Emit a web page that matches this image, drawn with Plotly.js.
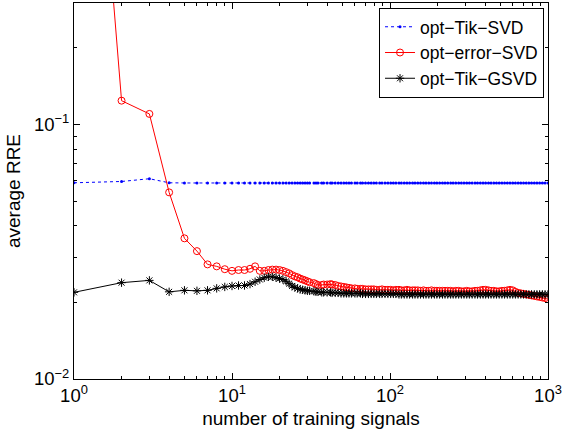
<!DOCTYPE html>
<html>
<head>
<meta charset="utf-8">
<script src="https://cdn.plot.ly/plotly-3.0.1.min.js"></script>
<style>html,body{margin:0;padding:0;background:#fff;}#chart{width:563px;height:432px;}</style>
</head>
<body>
<div id="chart"></div>
<script>
const seriesNames = ['opt\u2212Tik\u2212SVD', 'opt\u2212error\u2212SVD', 'opt\u2212Tik\u2212GSVD'];

const trainingSignals = [1,2,3,4,5,6,7,8,9,10,11,12,13,14,15,16,17,18,19,20,21,22,23,24,25,26,27,28,29,30,31,33,34,35,37,38,40,42,43,45,47,49,51,53,55,57,60,62,65,67,70,73,76,79,82,86,89,93,97,101,105,109,114,118,123,128,133,139,144,150,156,163,169,176,183,191,198,206,215,223,232,242,251,261,272,283,294,306,318,331,345,358,373,388,403,420,436,454,472,491,511,531,553,575,598,622,647,673,700,728,757,787,819,851,885,921,958,1000];

const optTikSVD = [0.0590,0.0597,0.0612,0.0590,0.0589,0.0589,0.0589,0.0589,0.0589,0.0589,0.0589,0.0589,0.0589,0.0589,0.0589,0.0589,0.0589,0.0589,0.0589,0.0589,0.0589,0.0589,0.0589,0.0589,0.0589,0.0589,0.0589,0.0589,0.0589,0.0589,0.0589,0.0589,0.0589,0.0589,0.0589,0.0589,0.0589,0.0589,0.0589,0.0589,0.0589,0.0589,0.0589,0.0589,0.0589,0.0589,0.0589,0.0589,0.0589,0.0589,0.0589,0.0589,0.0589,0.0589,0.0589,0.0589,0.0589,0.0589,0.0589,0.0589,0.0589,0.0589,0.0589,0.0589,0.0589,0.0589,0.0589,0.0589,0.0589,0.0589,0.0589,0.0589,0.0589,0.0589,0.0589,0.0589,0.0589,0.0589,0.0589,0.0589,0.0589,0.0589,0.0589,0.0589,0.0589,0.0589,0.0589,0.0589,0.0589,0.0589,0.0589,0.0589,0.0589,0.0589,0.0589,0.0589,0.0589,0.0589,0.0589,0.0589,0.0589,0.0589,0.0589,0.0589,0.0589,0.0589,0.0589,0.0589,0.0589,0.0589,0.0589,0.0589,0.0589,0.0589,0.0589,0.0589,0.0589,0.0589];

const optErrorSVD = [25,0.124,0.110,0.0541,0.0357,0.0318,0.0282,0.0277,0.0270,0.0266,0.0268,0.0268,0.0271,0.0277,0.0266,0.0266,0.0268,0.0269,0.0269,0.0268,0.0266,0.0263,0.0260,0.0256,0.0253,0.0251,0.0248,0.0246,0.0244,0.0242,0.0240,0.0238,0.0236,0.0234,0.0234,0.0235,0.0235,0.0236,0.0235,0.0234,0.0232,0.0231,0.0230,0.0229,0.0228,0.0227,0.0227,0.0226,0.0226,0.0226,0.0225,0.0225,0.0225,0.0225,0.0224,0.0224,0.0225,0.0224,0.0224,0.0224,0.0223,0.0224,0.0224,0.0223,0.0223,0.0224,0.0223,0.0223,0.0223,0.0223,0.0222,0.0223,0.0222,0.0222,0.0223,0.0222,0.0222,0.0222,0.0222,0.0222,0.0222,0.0222,0.0221,0.0222,0.0222,0.0221,0.0221,0.0222,0.0221,0.0221,0.0222,0.0222,0.0223,0.0224,0.0224,0.0223,0.0222,0.0222,0.0221,0.0221,0.0222,0.0222,0.0223,0.0224,0.0223,0.0220,0.0218,0.0217,0.0216,0.0215,0.0214,0.0213,0.0212,0.0211,0.0210,0.0209,0.0208,0.0206];

const optTikGSVD = [0.0219,0.0239,0.0244,0.0220,0.0223,0.0222,0.0223,0.0227,0.0230,0.0232,0.0233,0.0233,0.0236,0.0241,0.0246,0.0250,0.0252,0.0252,0.0250,0.0248,0.0246,0.0242,0.0237,0.0232,0.0229,0.0227,0.0225,0.0224,0.0223,0.0222,0.0222,0.0221,0.0220,0.0220,0.0219,0.0219,0.0219,0.0219,0.0218,0.0218,0.0218,0.0217,0.0217,0.0217,0.0217,0.0217,0.0217,0.0217,0.0217,0.0216,0.0216,0.0216,0.0216,0.0216,0.0216,0.0216,0.0216,0.0216,0.0216,0.0216,0.0216,0.0216,0.0215,0.0215,0.0215,0.0215,0.0215,0.0215,0.0215,0.0215,0.0215,0.0215,0.0215,0.0215,0.0215,0.0215,0.0215,0.0215,0.0215,0.0215,0.0215,0.0215,0.0215,0.0215,0.0215,0.0215,0.0215,0.0215,0.0215,0.0215,0.0215,0.0215,0.0215,0.0215,0.0215,0.0215,0.0215,0.0215,0.0215,0.0215,0.0215,0.0215,0.0215,0.0215,0.0215,0.0215,0.0215,0.0215,0.0215,0.0215,0.0215,0.0215,0.0215,0.0215,0.0215,0.0215,0.0215,0.0215];

const xTickVals = [1, 10, 100, 1000];
const xTickText = ['10<sup>0</sup>', '10<sup>1</sup>', '10<sup>2</sup>', '10<sup>3</sup>'];
const xMinorVals = [2,3,4,5,6,7,8,9,20,30,40,50,60,70,80,90,200,300,400,500,600,700,800,900];
const yTickVals = [0.01, 0.1];
const yTickText = ['10<sup>\u22122</sup>', '10<sup>\u22121</sup>'];
const yMinorVals = [0.02,0.03,0.04,0.05,0.06,0.07,0.08,0.09,0.2,0.3];

const FONT = '"Liberation Sans", Arial, Helvetica, sans-serif';

const traces = [
  {
    x: trainingSignals, y: optTikSVD, name: seriesNames[0], type: 'scatter', mode: 'lines+markers',
    line: {color: '#0000ff', width: 1, dash: 'dot'},
    marker: {color: '#0000ff', size: 3, symbol: 'circle'}
  },
  {
    x: trainingSignals, y: optErrorSVD, name: seriesNames[1], type: 'scatter', mode: 'lines+markers',
    line: {color: '#ff0000', width: 1},
    marker: {color: '#ff0000', size: 7, symbol: 'circle-open', line: {color: '#ff0000', width: 1}}
  },
  {
    x: trainingSignals, y: optTikGSVD, name: seriesNames[2], type: 'scatter', mode: 'lines+markers',
    line: {color: '#000000', width: 1},
    marker: {color: '#000000', size: 7, symbol: 'asterisk-open', line: {color: '#000000', width: 1}}
  }
];

const axisCommon = {
  type: 'log', showgrid: false, zeroline: false, showline: true, linecolor: '#000', linewidth: 1,
  mirror: 'allticks', ticks: 'inside', ticklen: 6, tickwidth: 1, tickcolor: '#000',
  tickfont: {family: FONT, size: 18.5, color: '#000'}
};

const layout = {
  width: 563, height: 432,
  margin: {l: 74, r: 15, t: 3, b: 53},
  paper_bgcolor: '#fff', plot_bgcolor: '#fff',
  font: {family: FONT, size: 19, color: '#000'},
  showlegend: true,
  xaxis: Object.assign({}, axisCommon, {
    range: [0, 3], tickmode: 'array', tickvals: xTickVals, ticktext: xTickText,
    minor: {tickmode: 'array', tickvals: xMinorVals, ticks: 'inside', ticklen: 3, tickcolor: '#000', showgrid: false},
    title: {text: 'number of training signals', font: {family: FONT, size: 19, color: '#000'}, standoff: 6}
  }),
  yaxis: Object.assign({}, axisCommon, {
    range: [-2, Math.log10(0.3)], tickmode: 'array', tickvals: yTickVals, ticktext: yTickText,
    minor: {tickmode: 'array', tickvals: yMinorVals, ticks: 'inside', ticklen: 3, tickcolor: '#000', showgrid: false},
    title: {text: 'average RRE', font: {family: FONT, size: 19, color: '#000'}, standoff: 8}
  }),
  legend: {
    x: 0.9916, y: 0.987, xanchor: 'right', yanchor: 'top',
    bgcolor: '#fff', bordercolor: '#000', borderwidth: 1,
    font: {family: FONT, size: 17.5, color: '#000'},
    itemwidth: 30, tracegroupgap: 0
  }
};

Plotly.newPlot('chart', traces, layout, {staticPlot: true, displayModeBar: false});
</script>
</body>
</html>
